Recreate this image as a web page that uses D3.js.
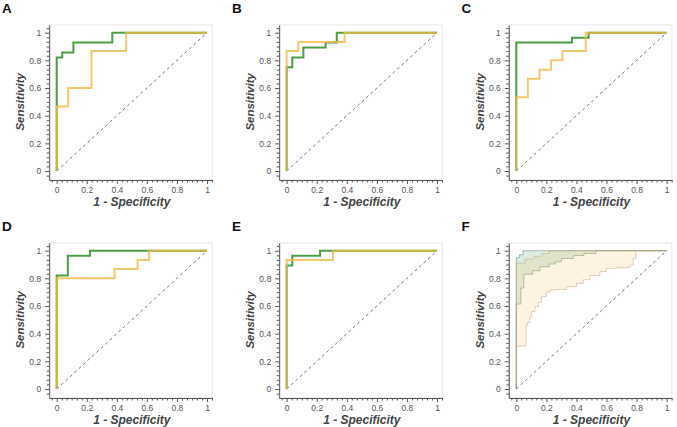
<!DOCTYPE html>
<html><head><meta charset="utf-8">
<script src="https://cdn.jsdelivr.net/npm/d3@7"></script>
<style>body{margin:0;background:#fff} svg{display:block;font-family:"Liberation Sans",Arial,sans-serif}</style>
</head><body><svg id="c" width="677" height="427"></svg>
<script>
// ---- data ----
const panelLabels = ["A","B","C","D","E","F"];
const majorTicks = [0, 0.2, 0.4, 0.6, 0.8, 1];
const tickLabels = ["0", "0.2", "0.4", "0.6", "0.8", "1"];
const xTitle = "1 - Specificity";
const yTitle = "Sensitivity";

// ROC step vertices (fpr, tpr)
const greenFprA = [0, 0, 0.037, 0.111, 0.370, 1];
const greenTprA = [0, 0.821, 0.857, 0.929, 1, 1];
const orangeFprA = [0, 0, 0.077, 0.231, 0.462, 1];
const orangeTprA = [0, 0.467, 0.600, 0.867, 1, 1];

const greenFprB = [0, 0, 0.037, 0.111, 0.259, 0.333, 1];
const greenTprB = [0, 0.750, 0.821, 0.893, 0.929, 1, 1];
const orangeFprB = [0, 0, 0.077, 0.385, 1];
const orangeTprB = [0, 0.867, 0.933, 1, 1];

const greenFprC = [0, 0, 0.370, 0.481, 1];
const greenTprC = [0, 0.929, 0.964, 1, 1];
const orangeFprC = [0, 0, 0.077, 0.154, 0.231, 0.308, 0.462, 1];
const orangeTprC = [0, 0.533, 0.667, 0.733, 0.800, 0.867, 1, 1];

const greenFprD = [0, 0, 0.074, 0.222, 1];
const greenTprD = [0, 0.821, 0.964, 1, 1];
const orangeFprD = [0, 0, 0.385, 0.538, 0.615, 1];
const orangeTprD = [0, 0.800, 0.867, 0.933, 1, 1];

const greenFprE = [0, 0, 0.037, 0.222, 1];
const greenTprE = [0, 0.893, 0.964, 1, 1];
const orangeFprE = [0, 0, 0.308, 1];
const orangeTprE = [0, 0.933, 1, 1];

// Panel F confidence bands (step vertices)
const greenUpFpr = [0, 0, 0.02, 0.045, 1];
const greenUpTpr = [0, 0.95, 0.97, 1, 1];
const greenLoFpr = [0, 0, 0.03, 0.05, 0.11, 0.157, 0.22, 0.26, 0.30, 0.38, 0.45, 0.53, 1];
const greenLoTpr = [0, 0.614, 0.73, 0.83, 0.855, 0.884, 0.904, 0.92, 0.944, 0.965, 0.98, 1, 1];
const orangeUpFpr = [0, 0, 0.06, 0.12, 0.17, 0.22, 1];
const orangeUpTpr = [0, 0.91, 0.94, 0.96, 0.98, 1, 1];
const orangeLoFpr = [0, 0, 0.065, 0.075, 0.09, 0.10, 0.124, 0.146, 0.168, 0.2, 0.224, 0.268, 0.335, 0.40, 0.446, 0.49, 0.556, 0.6, 0.667, 0.756, 0.778, 0.796, 1];
const orangeLoTpr = [0, 0.31, 0.46, 0.48, 0.52, 0.56, 0.595, 0.627, 0.667, 0.70, 0.716, 0.72, 0.74, 0.764, 0.79, 0.82, 0.85, 0.872, 0.877, 0.896, 0.945, 1, 1];

// ---- build ----
const zip = (xs, ys) => xs.map((x, i) => [x, ys[i]]);
const panels = [
  {label: panelLabels[0], green: zip(greenFprA, greenTprA), orange: zip(orangeFprA, orangeTprA)},
  {label: panelLabels[1], green: zip(greenFprB, greenTprB), orange: zip(orangeFprB, orangeTprB)},
  {label: panelLabels[2], green: zip(greenFprC, greenTprC), orange: zip(orangeFprC, orangeTprC)},
  {label: panelLabels[3], green: zip(greenFprD, greenTprD), orange: zip(orangeFprD, orangeTprD)},
  {label: panelLabels[4], green: zip(greenFprE, greenTprE), orange: zip(orangeFprE, orangeTprE)},
  {label: panelLabels[5], bands: [
     {up: zip(greenUpFpr, greenUpTpr), lo: zip(greenLoFpr, greenLoTpr), fill: "rgba(110,185,140,0.25)", stroke: "rgba(110,140,110,0.55)"},
     {up: zip(orangeUpFpr, orangeUpTpr), lo: zip(orangeLoFpr, orangeLoTpr), fill: "rgba(245,195,110,0.2)", stroke: "rgba(190,160,120,0.45)"}
  ]}
];

const colX0 = [56.7, 286.7, 516.3];
const rowY0 = [171, 389];
const W = 150.3, H = 138.3;
const minorTicks = d3.range(-1, 32).map(i => i / 30).filter(v => Math.abs(v*5 - Math.round(v*5)) > 1e-6);

const svg = d3.select("#c");

function expandSteps(pts) {
  const out = [pts[0]];
  for (let i = 1; i < pts.length; i++) {
    out.push([pts[i][0], pts[i-1][1]]);
    out.push(pts[i]);
  }
  return out;
}

panels.forEach((p, k) => {
  const x0 = colX0[k % 3], y0 = rowY0[Math.floor(k / 3)];
  const xs = d3.scaleLinear().domain([0, 1]).range([x0, x0 + W]);
  const ys = d3.scaleLinear().domain([0, 1]).range([y0, y0 - H]);
  const g = svg.append("g");

  const xa = xs.copy().domain([-0.05, 1.035]).range([xs(-0.05), xs(1.035)]);
  const ya = ys.copy().domain([-0.065, 1.056]).range([ys(-0.065), ys(1.056)]);

  // frame
  g.append("rect").attr("x", xa.range()[0]).attr("y", ya.range()[1])
    .attr("width", xa.range()[1] - xa.range()[0]).attr("height", ya.range()[0] - ya.range()[1])
    .attr("fill", "none").attr("stroke", "#e8e8e8").attr("stroke-width", 1);

  // bands
  if (p.bands) {
    const ln = d3.line().x(d => xs(d[0])).y(d => ys(d[1]));
    p.bands.forEach(b => {
      const poly = expandSteps(b.up).concat(expandSteps(b.lo).reverse());
      g.append("path").attr("d", ln(poly) + "Z")
        .attr("fill", b.fill).attr("stroke", b.stroke).attr("stroke-width", 1);
    });
  }

  // diagonal
  g.append("line").attr("x1", xs(0)).attr("y1", ys(0)).attr("x2", xs(1)).attr("y2", ys(1))
    .attr("stroke", "#777").attr("stroke-width", 1).attr("stroke-dasharray", "3,3");

  // curves
  const step = d3.line().x(d => xs(d[0])).y(d => ys(d[1])).curve(d3.curveStepAfter);
  if (p.green) {
    g.append("path").attr("d", step(p.green)).attr("fill", "none")
      .attr("stroke", "#4c9e45").attr("stroke-width", 2);
    g.append("path").attr("d", step(p.orange)).attr("fill", "none")
      .attr("stroke", "#f5b840").attr("stroke-opacity", 0.78).attr("stroke-width", 2);
  }

  // axes
  const xAxis = g.append("g").attr("transform", `translate(0,${ya.range()[0]})`)
    .call(d3.axisBottom(xa).tickValues(majorTicks).tickFormat((d, i) => tickLabels[i]).tickSize(4).tickSizeOuter(0).tickPadding(3));
  const xMinor = g.append("g").attr("transform", `translate(0,${ya.range()[0]})`)
    .call(d3.axisBottom(xa).tickValues(minorTicks).tickFormat("").tickSize(2.5).tickSizeOuter(0));
  const yAxis = g.append("g").attr("transform", `translate(${xa.range()[0]},0)`)
    .call(d3.axisLeft(ya).tickValues(majorTicks).tickFormat((d, i) => tickLabels[i]).tickSize(4).tickSizeOuter(0).tickPadding(4));
  const yMinor = g.append("g").attr("transform", `translate(${xa.range()[0]},0)`)
    .call(d3.axisLeft(ya).tickValues(minorTicks).tickFormat("").tickSize(2.5).tickSizeOuter(0));
  [xMinor, yMinor].forEach(a => a.select(".domain").remove());
  [xAxis, yAxis, xMinor, yMinor].forEach(a => {
    a.selectAll(".domain, line").attr("stroke", "#555");
    a.selectAll("text").attr("fill", "#555").style("font-size", "8.5px").style("font-family", '"Liberation Sans",Arial,sans-serif');
  });

  // titles
  g.append("text").attr("x", xs(0.5)).attr("y", y0 + 35).attr("text-anchor", "middle")
    .style("font-size", "12px").style("font-weight", "bold").style("font-style", "italic")
    .attr("fill", "#444").text(xTitle);
  g.append("text").attr("transform", `translate(${x0 - 32.5},${ys(0.5)}) rotate(-90)`)
    .attr("text-anchor", "middle")
    .style("font-size", "11.5px").style("font-weight", "bold").style("font-style", "italic")
    .attr("fill", "#444").text(yTitle);

  // panel letter
  g.append("text").attr("x", x0 - 54.7).attr("y", y0 - 158.3)
    .style("font-size", "13.5px").style("font-weight", "bold").attr("fill", "#111").text(p.label);
});
</script></body></html>
